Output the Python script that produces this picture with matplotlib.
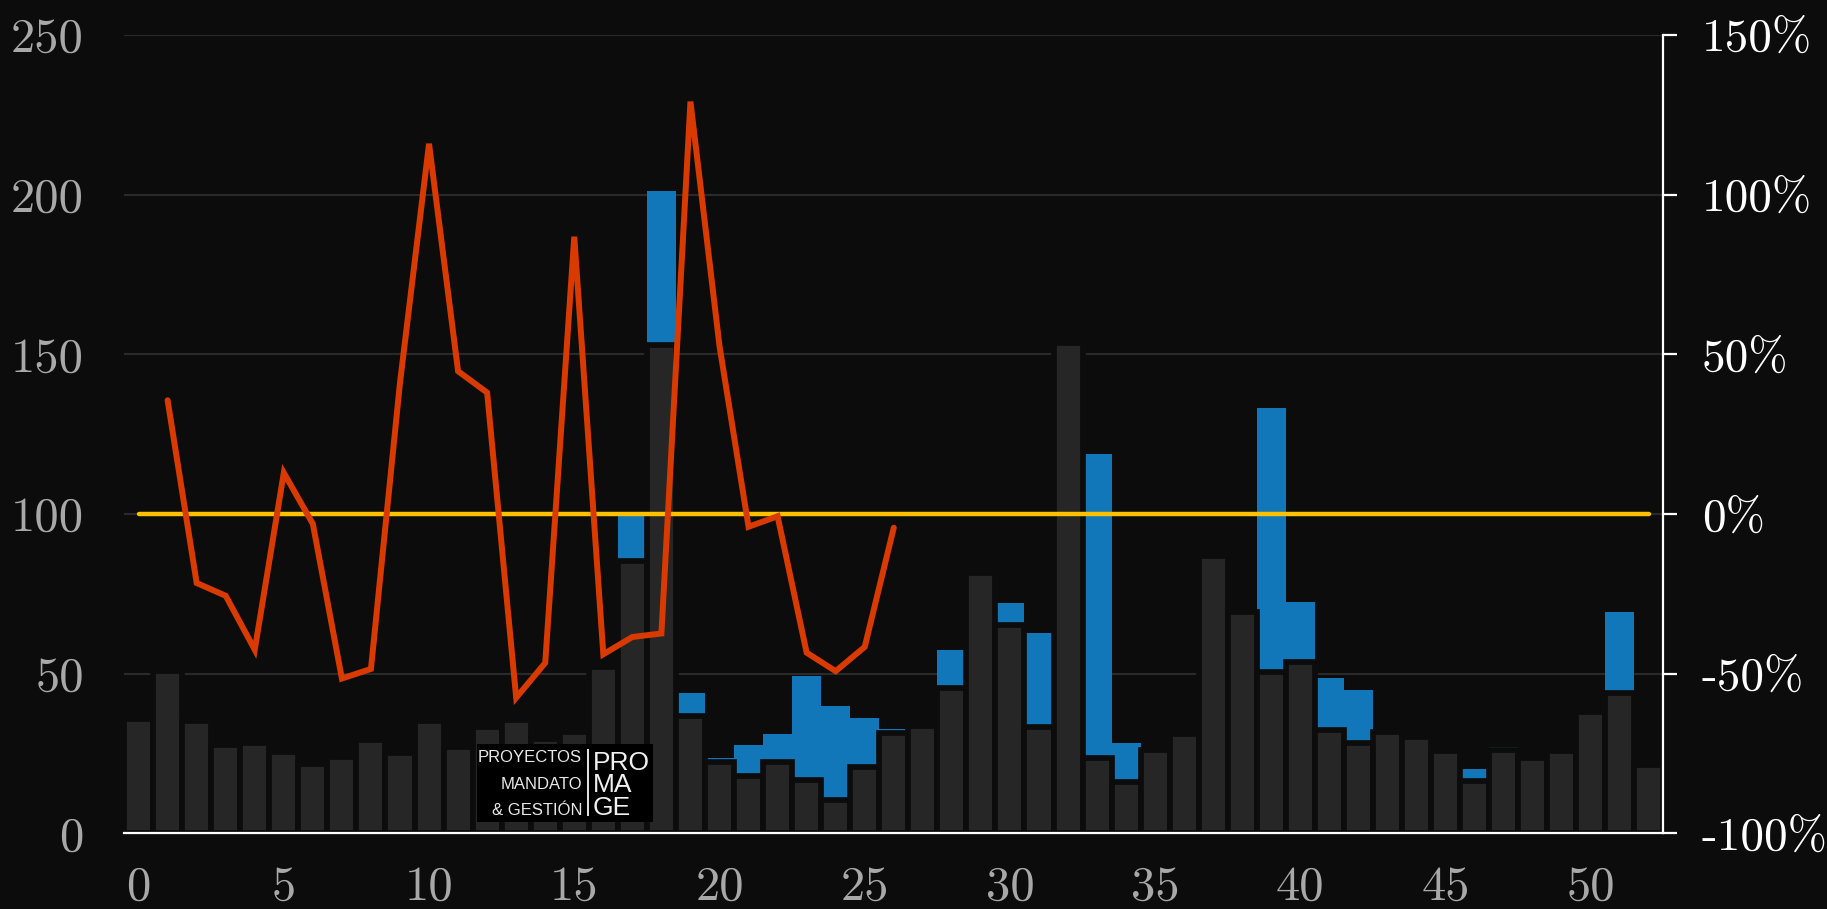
import matplotlib
matplotlib.use('Agg')
import matplotlib.pyplot as plt
from matplotlib.patches import Rectangle
from matplotlib.lines import Line2D

# ---------------- data ----------------
x_index = list(range(53))
gray_values = [35.7, 50.9, 35.1, 27.7, 28.3, 25.5, 21.7, 23.9, 29.3, 25.2,
               35.2, 27.2, 33.2, 35.4, 29.6, 31.7, 52.2, 85.3, 152.8, 36.7,
               22.4, 18.0, 22.4, 16.8, 10.4, 20.9, 31.6, 33.5, 45.6, 81.4,
               65.1, 33.4, 153.4, 23.5, 16.0, 26.2, 31.1, 86.9, 69.4, 50.6,
               53.7, 32.3, 28.4, 31.8, 30.1, 25.7, 16.3, 26.1, 23.5, 25.7,
               38.0, 44.1, 21.3]
blue_x = [17, 18, 19, 20, 21, 22, 23, 24, 25, 26, 28, 30, 31, 33, 34,
          39, 40, 41, 42, 46, 47, 51]
blue_values = [100.7, 201.2, 44.0, 23.6, 27.6, 31.2, 49.3, 40.0, 36.1, 32.8,
               57.4, 72.2, 62.9, 118.9, 28.3, 133.3, 72.6, 48.7, 44.8, 20.2,
               27.2, 69.4]
pct_x = list(range(1, 27))
pct_values = [35.6, -21.6, -25.6, -42.5, 12.9, -3.1, -51.5, -48.5, 41.1, 115.9,
              44.7, 38.0, -57.5, -46.6, 86.8, -43.9, -38.5, -37.4, 129.1, 52.6,
              -4.0, -0.7, -43.4, -49.2, -41.6, -4.3]
ref_x = [0, 52]
ref_values = [0, 0]

left_ticks = [0, 50, 100, 150, 200, 250]
left_labels = ['0', '50', '100', '150', '200', '250']
right_ticks = [-100, -50, 0, 50, 100, 150]
right_labels = ['-100%', '-50%', '0%', '50%', '100%', '150%']
x_ticks = [0, 5, 10, 15, 20, 25, 30, 35, 40, 45, 50]
x_labels = [str(v) for v in x_ticks]
logo_left = 'PROYECTOS\nMANDATO\n& GESTIÓN'
logo_right = 'PRO\nMA\nGE'

# ---------------- style ----------------
BG = '#0c0c0c'
GRAY = '#262626'
BLUE = '#1177b9'
ORANGE = '#d93a00'
YELLOW = '#ffc000'
LABEL_GRAY = '#a8a8a8'
TICK_FS = 35
plt.rcParams['axes.unicode_minus'] = False

fig = plt.figure(figsize=(18.27, 9.09), dpi=100, facecolor=BG)
ax = fig.add_axes([0.0679, 0.0831, 0.8426, 0.8786])
ax.set_facecolor(BG)
ax.set_xlim(-0.5, 52.5)
ax.set_ylim(0, 250)

ax.grid(axis='y', color='#2a2a2a', lw=1.5, zorder=0)
ax.grid(axis='x', visible=False)
ax.set_axisbelow(True)

ax.bar(blue_x, blue_values, width=1.0, color=BLUE, lw=0, zorder=2)
ax.bar(x_index, gray_values, width=1.0, color=GRAY, edgecolor=BG, lw=4.1, zorder=3)

for s in ['top', 'left', 'right']:
    ax.spines[s].set_visible(False)
ax.spines['bottom'].set_color('white')
ax.spines['bottom'].set_linewidth(1.6)
ax.spines['bottom'].set_zorder(5)

ax.set_yticks(left_ticks)
ax.set_yticklabels(left_labels, fontfamily='cmr10', fontsize=TICK_FS, color=LABEL_GRAY)
ax.set_xticks(x_ticks)
ax.set_xticklabels(x_labels, fontfamily='cmr10', fontsize=TICK_FS, color=LABEL_GRAY)
ax.tick_params(axis='y', length=0, pad=29)
ax.tick_params(axis='x', length=0, pad=23)

ax2 = ax.twinx()
ax2.set_ylim(-100, 150)
for s in ['top', 'left', 'bottom']:
    ax2.spines[s].set_visible(False)
ax2.spines['right'].set_color('white')
ax2.spines['right'].set_linewidth(1.6)
ax2.set_yticks(right_ticks)
ax2.set_yticklabels(right_labels, fontfamily='cmr10', fontsize=34, color='white')
ax2.tick_params(axis='y', length=10, width=1.6, color='white', pad=17.5)

ax2.plot(ref_x, ref_values, color=YELLOW, lw=3.2, solid_capstyle='round', zorder=4)
ax2.plot(pct_x, pct_values, color=ORANGE, lw=4.3, solid_joinstyle='miter',
         solid_capstyle='round', zorder=5)

# ---------------- logo overlay ----------------
W, H = 1827.0, 909.0
def fx(px):
    return px / W
def fy(py):
    return 1 - py / H

fig.add_artist(Rectangle((fx(477), fy(822)), fx(653) - fx(477), fy(744) - fy(822),
                         transform=fig.transFigure, facecolor='black', edgecolor='none', zorder=20))
fig.text(fx(582), fy(750), logo_left, ha='right', va='top', multialignment='right',
         linespacing=1.96, color='#e8e8e8', fontsize=12, fontfamily='Liberation Sans', zorder=21)
fig.add_artist(Line2D([fx(588.3), fx(588.3)], [fy(750), fy(815)], transform=fig.transFigure,
                      color='#e8e8e8', lw=1.4, zorder=21))
fig.text(fx(593), fy(751), logo_right, ha='left', va='top', multialignment='left',
         linespacing=0.91, color='#f0f0f0', fontsize=19, fontfamily='Liberation Sans', zorder=21)

fig.savefig('out.png', dpi=100, facecolor=BG)
